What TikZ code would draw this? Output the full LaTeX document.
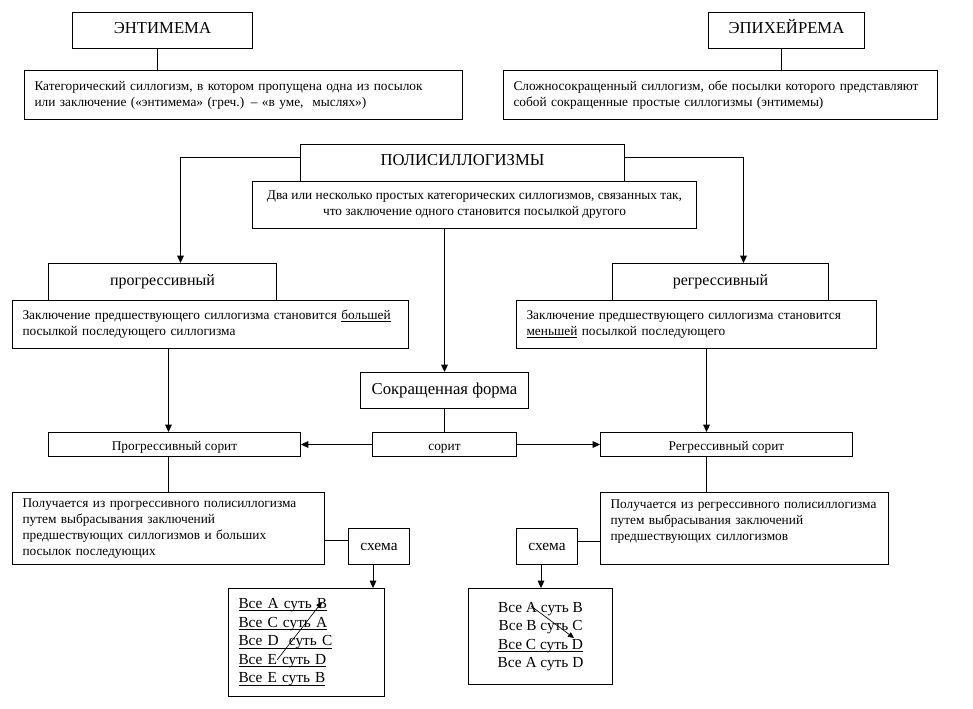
\documentclass[tikz,border=0pt]{standalone}
\usepackage{fontspec}
\setmainfont{Liberation Serif}
\usetikzlibrary{arrows.meta,calc}
\newcommand\fTtl{\fontsize{12.5}{15}\selectfont}
\newcommand\fMid{\fontsize{12}{14}\selectfont}
\newcommand\fBig{\fontsize{12.5}{15}\selectfont}
\newcommand\fSch{\fontsize{11.5}{13.9}\selectfont}
\newcommand\fSm{\fontsize{10}{12}\selectfont}
\newlength\ulw
\newcommand\myul[1]{\leavevmode\settowidth\ulw{#1}\rlap{\rule[-1.8pt]{\ulw}{0.6pt}}#1}
\newcommand\mybox[7]{%
 \pgfmathsetmacro\bw{(#4-#2)*0.75}%
 \pgfmathsetmacro\bh{(#5-#3)*0.75}%
 \pgfmathsetmacro\tw{(#4-#2-20)*0.75}%
 \node[box, minimum width=\bw pt, minimum height=\bh pt, #6] (#1) at (#2,#3) {#7};}
\tikzset{
 box/.style={draw, line width=0.75pt, inner sep=0pt, anchor=north west, font=\fSm},
 lt/.style={align=left, text width=\tw pt, inner xsep=7.5pt},
 ttl/.style={font=\fTtl, text height=8.3pt, text depth=4.5pt},
 sml/.style={text height=8.6pt, text depth=0pt},
 arr/.style={line width=0.75pt, -{Triangle[width=5pt,length=5.5pt]}},
 ln/.style={line width=0.75pt},
 tarr/.style={line width=0.5pt, -{Triangle[width=4pt,length=4.5pt]}},
}
\begin{document}
\begin{tikzpicture}[x=0.75pt,y=-0.75pt]
\useasboundingbox (0,0) rectangle (973,709);
% top
\mybox{ent}{72}{12}{252}{48}{ttl}{ЭНТИМЕМА}
\mybox{entd}{24}{70}{462}{119}{lt}{Категорический силлогизм, в котором пропущена одна из посылок\\или заключение («энтимема» (греч.) – «в уме, \ мыслях»)}
\mybox{epi}{708}{12}{864}{48}{ttl}{ЭПИХЕЙРЕМА}
\mybox{epid}{503}{70}{937}{119}{lt}{Сложносокращенный силлогизм, обе посылки которого представляют\\собой сокращенные простые силлогизмы (энтимемы)}
% poly
\mybox{poly}{300}{144}{624}{181}{ttl}{ПОЛИСИЛЛОГИЗМЫ}
\mybox{polyd}{252}{181}{696}{228}{align=center}{Два или несколько простых категорических силлогизмов, связанных так,\\что заключение одного становится посылкой другого}
% branches
\mybox{prog}{48}{263}{276}{300}{font=\fMid}{прогрессивный}
\mybox{progd}{12}{300}{408}{348}{lt}{Заключение предшествующего силлогизма становится \myul{большей}\\посылкой последующего силлогизма}
\mybox{reg}{612}{263}{828}{300}{font=\fMid}{регрессивный}
\mybox{regd}{516}{300}{876}{348}{lt}{Заключение предшествующего силлогизма становится\\\myul{меньшей} посылкой последующего}
\mybox{sokr}{360}{372}{528}{408}{font=\fBig}{Сокращенная форма}
\mybox{sorit}{372}{432}{516}{456}{sml}{сорит}
\mybox{progs}{48}{432}{300}{456}{sml}{Прогрессивный сорит}
\mybox{regs}{600}{432}{852}{456}{sml}{Регрессивный сорит}
% bottom
\mybox{pbd}{12}{492}{324}{564}{lt}{Получается из прогрессивного полисиллогизма\\путем выбрасывания заключений\\предшествующих силлогизмов и больших\\посылок последующих}
\mybox{sxL}{348}{528}{409}{564}{font=\fSch}{схема}
\mybox{schL}{228}{588}{384}{696}{lt,font=\fSch}{\myul{Все A суть B}\\\myul{Все C суть A}\\\myul{Все D \ суть C}\\\myul{Все E суть D}\\\myul{Все E суть B}}
\mybox{rbd}{600}{492}{888}{564}{lt}{Получается из регрессивного полисиллогизма\\путем выбрасывания заключений\\предшествующих силлогизмов\\\mbox{}}
\mybox{sxR}{516}{528}{577}{564}{font=\fSch}{схема}
\mybox{schR}{468}{588}{612}{684}{align=center,font=\fSch}{Все A суть B\\Все B суть C\\\myul{Все C суть D}\\Все A суть D}
% connectors
\coordinate (eA) at ([xshift=-4pt]ent.south);
\draw[ln] (eA) -- (eA |- entd.north);
\coordinate (eB) at ([xshift=-4pt]epi.south);
\draw[ln] (eB) -- (eB |- epid.north);
\coordinate (pl) at ([yshift=4pt]poly.west);
\coordinate (pt) at ([xshift=13.5pt]prog.north);
\draw[arr] (pl) -| (pt);
\coordinate (pr) at ([yshift=4pt]poly.east);
\coordinate (rt) at ([xshift=17.25pt]reg.north);
\draw[arr] (pr) -| (rt);
\draw[arr] (sokr.north |- polyd.south) -- (sokr.north);
\draw[ln] (sokr.south) -- (sorit.north);
\draw[arr] (sorit.west) -- (progs.east);
\draw[arr] (sorit.east) -- (regs.west);
\draw[arr] (pbd.north |- progd.south) -- (pbd.north |- progs.north);
\draw[ln] (pbd.north |- progs.south) -- (pbd.north);
\coordinate (rn) at ([xshift=-15pt]regs.north);
\coordinate (rs) at ([xshift=-15pt]regs.south);
\draw[arr] (rn |- regd.south) -- (rn);
\draw[ln] (rs) -- (rs |- rbd.north);
\coordinate (cL) at ([yshift=4.5pt]sxL.west);
\draw[ln] (cL -| pbd.east) -- (cL);
\coordinate (cR) at ([yshift=4pt]sxR.east);
\draw[ln] (cR) -- (cR -| rbd.west);
\coordinate (sL) at ([xshift=-4.5pt]sxL.south);
\draw[arr] (sL) -- (sL |- schL.north);
\coordinate (sR) at ([xshift=-4.5pt]sxR.south);
\draw[arr] (sR) -- (sR |- schR.north);
% scheme arrows
\coordinate (la1) at (277,660);
\coordinate (la2) at (322,602);
\draw[tarr] (la1) -- (la2);
\coordinate (ra1) at (531,606);
\coordinate (ra2) at (574,638);
\draw[tarr] (ra1) -- (ra2);
\end{tikzpicture}
\end{document}
